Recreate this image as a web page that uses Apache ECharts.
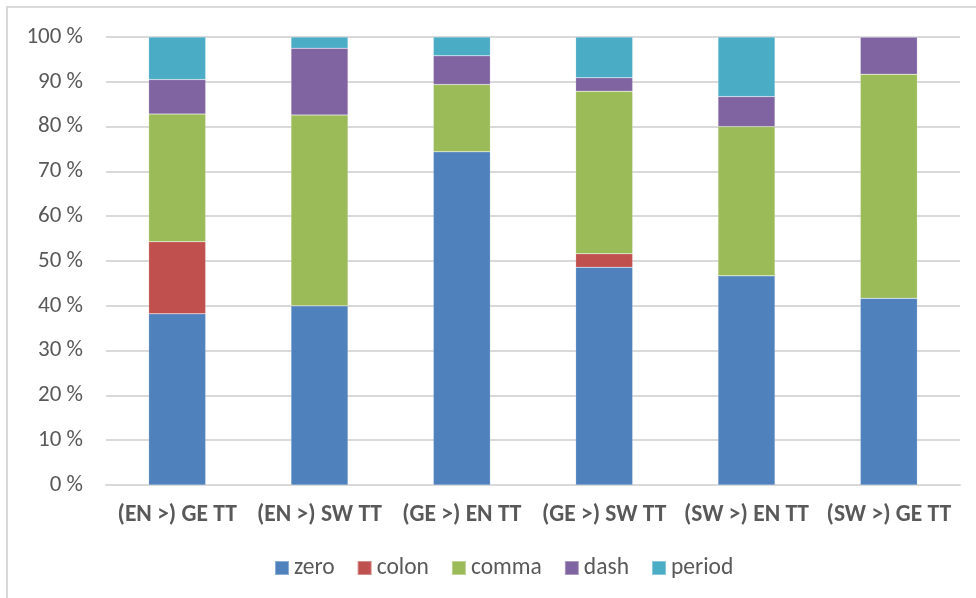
<!DOCTYPE html>
<html>
<head>
<meta charset="utf-8">
<script src="https://cdn.jsdelivr.net/npm/echarts@6/dist/echarts.min.js"></script>
<style>
  html, body { margin: 0; padding: 0; background: #ffffff; }
  #chart { width: 976px; height: 598px; }
</style>
</head>
<body>
<div id="chart"></div>
<script>
// Categories (translation directions) and share of each separator type, in percent
const categories = ['(EN >) GE TT', '(EN >) SW TT', '(GE >) EN TT', '(GE >) SW TT', '(SW >) EN TT', '(SW >) GE TT'];
const zero   = [38.2, 40.0, 74.4, 48.6, 46.7, 41.7];
const colon  = [16.1,  0.0,  0.0,  3.0,  0.0,  0.0];
const comma  = [28.5, 42.6, 15.0, 36.3, 33.3, 50.0];
const dash   = [ 7.7, 14.9,  6.4,  3.0,  6.7,  8.3];
const period = [ 9.5,  2.5,  4.2,  9.1, 13.3,  0.0];
const yTicks = { min: 0, max: 100, step: 10 };

const seriesDefs = [
  { name: 'zero',   data: zero,   color: '#4F81BD' },
  { name: 'colon',  data: colon,  color: '#C0504D' },
  { name: 'comma',  data: comma,  color: '#9BBB59' },
  { name: 'dash',   data: dash,   color: '#8064A2' },
  { name: 'period', data: period, color: '#4BACC6' }
];

const FONT = 'Carlito, "Open Sans", sans-serif';
const chart = echarts.init(document.getElementById('chart'), null, { renderer: 'canvas' });

chart.setOption({
  backgroundColor: '#ffffff',
  animation: false,
  graphic: [{
    type: 'rect',
    shape: { x: 7, y: 7, width: 1000, height: 620 },
    style: { fill: 'none', stroke: '#d9d9d9', lineWidth: 2 },
    silent: true,
    z: -1
  }],
  grid: { left: 106, right: 16, top: 37, bottom: 113, containLabel: false },
  legend: {
    data: seriesDefs.map(s => s.name),
    top: 556,
    left: 274,
    padding: 0,
    itemWidth: 14,
    itemHeight: 14,
    itemGap: 22,
    icon: 'rect',
    textStyle: { fontFamily: FONT, fontSize: 23.5, color: '#595959' }
  },
  xAxis: {
    type: 'category',
    data: categories,
    axisLine: { show: true, lineStyle: { color: '#d9d9d9', width: 2 } },
    axisTick: { show: false },
    axisLabel: {
      interval: 0,
      margin: 18,
      fontFamily: FONT,
      fontSize: 23.5,
      fontWeight: 'bold',
      color: '#595959'
    }
  },
  yAxis: {
    type: 'value',
    min: yTicks.min,
    max: yTicks.max,
    interval: yTicks.step,
    axisLine: { show: false },
    axisTick: { show: false },
    splitLine: { lineStyle: { color: '#d9d9d9', width: 2 } },
    axisLabel: {
      margin: 23,
      fontFamily: FONT,
      fontSize: 23,
      color: '#595959',
      formatter: '{value} %'
    }
  },
  series: seriesDefs.map(s => ({
    name: s.name,
    type: 'bar',
    stack: 'total',
    barWidth: 57,
    data: s.data,
    itemStyle: { color: s.color, borderColor: 'rgba(255,255,255,0.35)', borderWidth: 0.5 }
  }))
});
</script>
</body>
</html>
